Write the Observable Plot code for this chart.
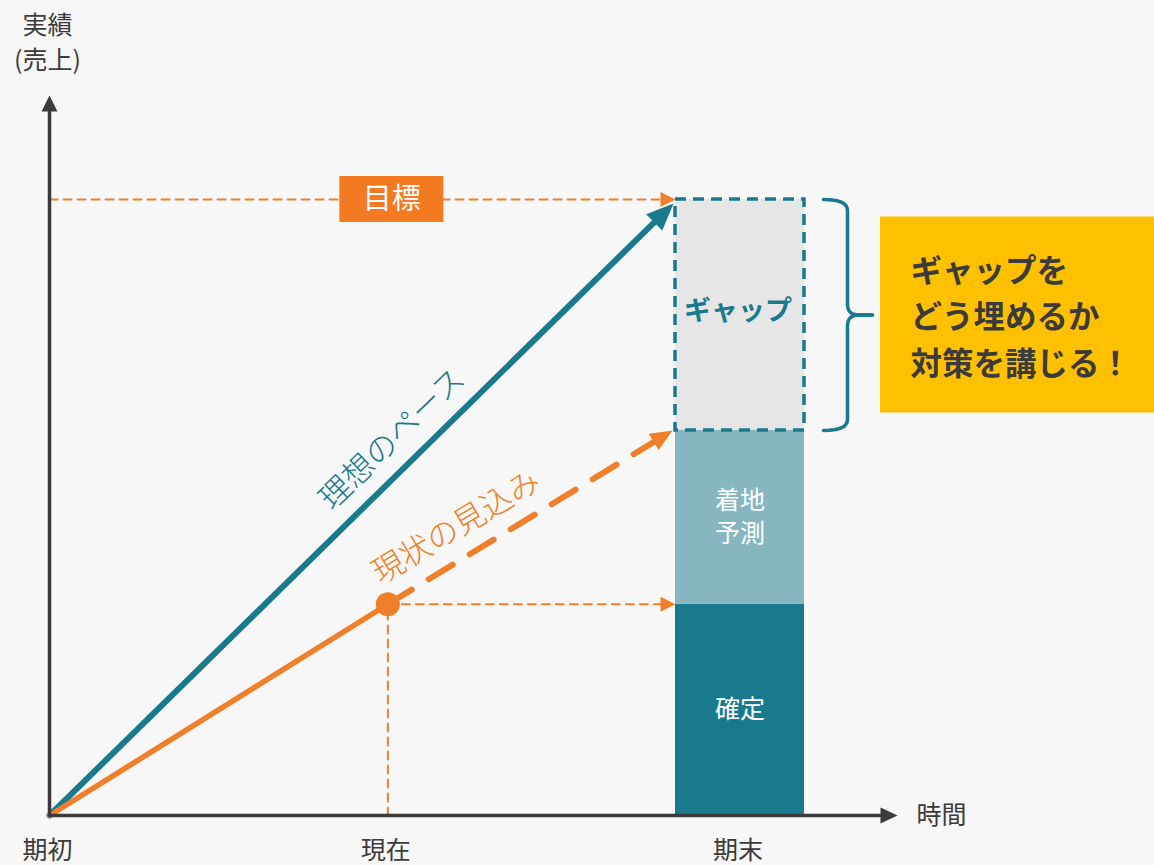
<!DOCTYPE html>
<html><head><meta charset="utf-8">
<script src="https://cdn.jsdelivr.net/npm/d3@7"></script>
<script src="https://cdn.jsdelivr.net/npm/@observablehq/plot@0.6"></script>
<style>
html,body{margin:0;padding:0;background:#f7f7f7;}
#chart svg{display:block;}
</style></head><body><div id="chart"></div>
<script>
// ---------- data ----------
const periods = ["期初", "現在", "期末"];
const periodTime = [0, 4.9, 10];
const yAxisTitle = "実績\n(売上)";
const xAxisTitle = "時間";
const targetValue = 100;
const targetLabel = "目標";
const segmentNames = ["確定", "着地\n予測"];
const segmentValues = [34.3, 28.2];
const gapLabel = "ギャップ";
const idealLabel = "理想のペース";
const outlookLabel = "現状の見込み";
const calloutLines = ["ギャップを", "どう埋めるか", "対策を講じる！"];

// ---------- layout / style ----------
const W = 1154, H = 865;
const M = {top: 199, right: 414.5, bottom: 50, left: 49};
const xDomain = [0, 10], yDomain = [0, 100];
const x = d3.scaleLinear(xDomain, [M.left, W - M.right]);
const y = d3.scaleLinear(yDomain, [H - M.bottom, M.top]);
const X = px => x.invert(px), Y = py => y.invert(py);

const TEAL = "#187a8c", TEAL_LIGHT = "#86b7c1", ORANGE = "#f07f2a", ORANGE_BOX = "#f37a21";
const DARK = "#3c3a3a", GAP_FILL = "#e6e6e6", YELLOW = "#ffc000";
const FONT = "'Noto Sans CJK JP', 'Noto Sans', sans-serif";

const tStart = periodTime[0], tNow = periodTime[1], tEnd = periodTime[2];
const cum = d3.cumsum(segmentValues);
const confirmed = segmentValues[0];
const landing = cum[cum.length - 1];
const barHalf = X(M.left + 64.5) - X(M.left);
const bx1 = tEnd - barHalf, bx2 = tEnd + barHalf;

const bars = segmentNames.map((name, i) => ({name, y1: i ? cum[i - 1] : 0, y2: cum[i], fill: i ? TEAL_LIGHT : TEAL}));

function arrow(from, to, {color, width, dash, head = 15, r = 7.5, back = 0.6}) {
  const fx = x(from[0]), fy = y(from[1]), tx = x(to[0]), ty = y(to[1]);
  const len = Math.hypot(tx - fx, ty - fy);
  const ux = (tx - fx) / len, uy = (ty - fy) / len;
  const ex = tx - ux * head * back, ey = ty - uy * head * back;
  const rot = Math.atan2(ux, -uy) * 180 / Math.PI;
  return [
    Plot.line([[from[0], from[1]], [X(ex), Y(ey)]], {x: d => d[0], y: d => d[1], stroke: color, strokeWidth: width, strokeDasharray: dash}),
    Plot.vector([to], {x: d => d[0], y: d => d[1], length: head, rotate: rot, r, shape: "spike", anchor: "end", fill: color, stroke: "none"})
  ];
}

function quad(p0, p1, p2, n = 8) {
  const pts = [];
  for (let i = 1; i <= n; i++) {
    const t = i / n, a = (1 - t) * (1 - t), b = 2 * (1 - t) * t, c = t * t;
    pts.push([a * p0[0] + b * p1[0] + c * p2[0], a * p0[1] + b * p1[1] + c * p2[1]]);
  }
  return pts;
}

// brace geometry (pixels relative to the bar)
const bxr = x(bx2);
const b0 = bxr + 19, b1 = bxr + 43, bt = bxr + 68;
const yTop = y(targetValue), yBot = y(landing), yMid = (yTop + yBot) / 2;
const rc = 11;
const braceUpper = [[b0, yTop], ...quad([b0, yTop], [b1, yTop], [b1, yTop + rc]), [b1, yMid - rc], ...quad([b1, yMid - rc], [b1, yMid], [b1 + rc, yMid]), [bt, yMid]].map(([a, b]) => [X(a), Y(b)]);
const braceLower = [[b0, yBot], ...quad([b0, yBot], [b1, yBot], [b1, yBot - rc]), [b1, yMid + rc], ...quad([b1, yMid + rc], [b1, yMid], [b1 + rc, yMid]), [bt, yMid]].map(([a, b]) => [X(a), Y(b)]);

const idealTip = [X(x(bx1) - 2), Y(y(targetValue) + 4)];
const outlookTip = [X(x(bx1) - 3), landing];
const idealAt = t => idealTip[1] * t / idealTip[0];
const outlookAt = t => confirmed + (t - tNow) * (outlookTip[1] - confirmed) / (outlookTip[0] - tNow);
const tIdealLabel = X(392), tOutlookLabel = X(456);
const labelX = X(x(tNow) + 4);

const txt = {fontFamily: FONT};

const chart = Plot.plot({
  width: W, height: H,
  marginTop: M.top, marginRight: M.right, marginBottom: M.bottom, marginLeft: M.left,
  x: {domain: xDomain, axis: null},
  y: {domain: yDomain, axis: null},
  style: {fontFamily: FONT, background: "transparent", overflow: "visible"},
  marks: [
    // thin dashed guides
    ...arrow([tStart, targetValue], [bx1, targetValue], {color: ORANGE, width: 2, dash: "8,6"}),
    ...arrow([tNow, confirmed], [bx1, confirmed], {color: ORANGE, width: 2, dash: "8,6"}),
    Plot.line([[tNow, 0], [tNow, confirmed]], {x: d => d[0], y: d => d[1], stroke: ORANGE, strokeWidth: 2, strokeDasharray: "8,6"}),
    // stacked bar
    Plot.rect(bars, {x1: bx1, x2: bx2, y1: "y1", y2: "y2", fill: "fill"}),
    Plot.rect([0], {x1: bx1, x2: bx2, y1: landing, y2: targetValue, fill: GAP_FILL, stroke: TEAL, strokeWidth: 3.5, strokeDasharray: "11,7"}),
    Plot.text(bars, {x: tEnd, y: d => (d.y1 + d.y2) / 2, text: "name", fill: "#fff", fontSize: 25, lineHeight: 1.32, lineAnchor: "middle", dy: -2, ...txt}),
    Plot.text([gapLabel], {x: tEnd, y: (landing + targetValue) / 2, text: d => d, fill: TEAL, fontSize: 27, fontWeight: "bold", dy: -4, dx: -2, ...txt}),
    // brace
    Plot.line(braceUpper, {x: d => d[0], y: d => d[1], stroke: TEAL, strokeWidth: 3.5, strokeLinejoin: "round"}),
    Plot.line(braceLower, {x: d => d[0], y: d => d[1], stroke: TEAL, strokeWidth: 3.5, strokeLinejoin: "round"}),
    // callout box
    Plot.rect([0], {x1: X(bt + 8), x2: X(W + 5), y1: Y(yMid + 98), y2: Y(yMid - 98), fill: YELLOW}),
    Plot.text([calloutLines.join("\n")], {x: X(bt + 38), y: Y(yMid - 1.5), text: d => d, textAnchor: "start", lineAnchor: "middle", lineHeight: 1.47, fontSize: 31.5, fontWeight: "bold", fill: "#3b3b3b", ...txt}),
    // target label
    Plot.rect([0], {x1: X(x(labelX) - 52), x2: X(x(labelX) + 52), y1: Y(yTop + 23), y2: Y(yTop - 23), fill: ORANGE_BOX}),
    Plot.text([targetLabel], {x: labelX, y: targetValue, text: d => d, fill: "#fff", fontSize: 29, ...txt}),
    // ideal pace
    ...arrow([tStart, 0], idealTip, {color: TEAL, width: 6, head: 27, r: 11.5, back: 0.55}),
    // current outlook
    ...arrow([tNow, confirmed], outlookTip, {color: ORANGE, width: 6, dash: "28,20", head: 22, r: 9.5, back: 0.5}),
    Plot.line([[tStart, 0], [tNow, confirmed]], {x: d => d[0], y: d => d[1], stroke: ORANGE, strokeWidth: 5.5}),
    Plot.dot([[tNow, confirmed]], {x: d => d[0], y: d => d[1], r: 12, fill: ORANGE}),
    Plot.text([idealLabel], {x: tIdealLabel, y: idealAt(tIdealLabel), text: d => d, rotate: -44, dy: -40, fill: TEAL, fontSize: 31.5, fontWeight: 300, ...txt}),
    Plot.text([outlookLabel], {x: tOutlookLabel, y: outlookAt(tOutlookLabel), text: d => d, rotate: -31, dy: -35, fill: ORANGE, fontSize: 31.5, fontWeight: 300, ...txt}),
    // axes
    ...arrow([tStart, 0], [tStart, Y(95)], {color: DARK, width: 3.5, head: 16, r: 8, back: 0.6}),
    ...arrow([tStart, 0], [X(897), 0], {color: DARK, width: 3.5, head: 17, r: 8, back: 0.6}),
    Plot.text(periods, {x: (d, i) => periodTime[i], y: 0, text: d => d, dy: 35, dx: -2, fill: DARK, fontSize: 25, ...txt}),
    Plot.text([xAxisTitle], {x: X(897), y: 0, text: d => d, dx: 44, fill: DARK, fontSize: 25, ...txt}),
    Plot.text([yAxisTitle], {x: tStart, y: Y(95), text: d => d, dy: -55.5, dx: -2, lineAnchor: "middle", lineHeight: 1.4, fill: DARK, fontSize: 25, ...txt})
  ]
});
document.getElementById("chart").appendChild(chart);
</script></body></html>
